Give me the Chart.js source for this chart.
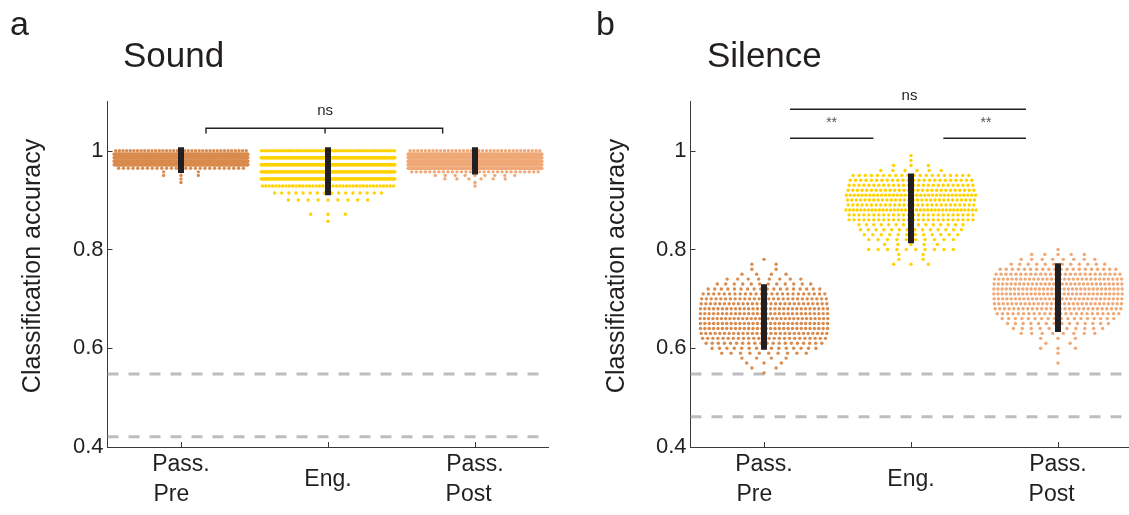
<!DOCTYPE html>
<html>
<head>
<meta charset="utf-8">
<script src="https://cdn.jsdelivr.net/npm/chart.js@4.4.1/dist/chart.umd.min.js"></script>
<style>
  html, body { margin: 0; padding: 0; background: #fff; overflow: hidden; }
  body { width: 1129px; height: 515px; position: relative; }
  #soundChart { position: absolute; left: 0; top: 0; }
  #silenceChart { position: absolute; left: 565px; top: 0; }
</style>
</head>
<body>
<canvas id="soundChart" width="565" height="515"></canvas>
<canvas id="silenceChart" width="580" height="515"></canvas>
<script>
// trailing spaces keep the two-line labels left aligned like the original
const categories = [["Pass.", "Pre   "], ["Eng."], ["Pass.", "Post  "]];
const yTickValues = [0.4, 0.6, 0.8, 1];
const yTickLabels = ["0.4", "0.6", "0.8", "1"];

// Sound: accuracy levels (rows of each swarm) and number of runs on each row
const soundPreLevels = [1.0, 0.9929, 0.9857, 0.9786, 0.9714, 0.9643, 0.9571, 0.95, 0.9429, 0.9357];
const soundPreCounts = [37, 220, 230, 220, 200, 27, 3, 3, 1, 1];
const soundEngLevels = [1.0, 0.9857, 0.9714, 0.9571, 0.9429, 0.9286, 0.9143, 0.9, 0.8714, 0.8571];
const soundEngCounts = [50, 170, 180, 170, 150, 40, 16, 9, 3, 1];
const soundPostLevels = [1.0, 0.9929, 0.9857, 0.9786, 0.9714, 0.9643, 0.9571, 0.95, 0.9429, 0.9357, 0.9286];
const soundPostCounts = [35, 200, 210, 210, 170, 150, 29, 9, 6, 1, 1];

// Silence
const silencePreLevels = [0.78, 0.77, 0.76, 0.75, 0.74, 0.73, 0.72, 0.71, 0.70, 0.69, 0.68, 0.67,
    0.66, 0.65, 0.64, 0.63, 0.62, 0.61, 0.60, 0.59, 0.58, 0.57, 0.56, 0.55];
const silencePreCounts = [1, 2, 2, 4, 8, 12, 18, 24, 27, 28, 30, 30, 31, 30, 30, 28, 25, 20, 15, 10, 4, 3, 2, 1];
const silenceEngLevels = [0.99, 0.98, 0.97, 0.96, 0.95, 0.94, 0.93, 0.92, 0.91, 0.90, 0.89, 0.88,
    0.87, 0.86, 0.85, 0.84, 0.83, 0.82, 0.81, 0.80, 0.79, 0.78, 0.77];
const silenceEngCounts = [1, 1, 3, 6, 20, 24, 26, 28, 34, 30, 28, 36, 26, 26, 15, 14, 12, 10, 5, 10, 2, 2, 3];
const silencePostLevels = [0.80, 0.79, 0.78, 0.77, 0.76, 0.75, 0.74, 0.73, 0.72, 0.71, 0.70, 0.69,
    0.68, 0.67, 0.66, 0.65, 0.64, 0.63, 0.62, 0.61, 0.60, 0.59, 0.57];
const silencePostCounts = [1, 5, 8, 12, 20, 26, 30, 31, 32, 32, 31, 30, 28, 24, 18, 14, 11, 8, 3, 2, 3, 1, 1];

// black bars: [low, high] per category
const soundBars = [[0.955, 1.007], [0.910, 1.007], [0.952, 1.007]];
const silenceBars = [[0.597, 0.7295], [0.8125, 0.954], [0.633, 0.772]];

// chance levels (dashed)
const soundChance = [0.548, 0.421];
const silenceChance = [0.548, 0.461];

// significance brackets and their labels
const soundBrackets = [
    [{x: 1.17, y: 1.035}, {x: 1.17, y: 1.0454}, {x: 2.78, y: 1.0454}, {x: 2.78, y: 1.035}],
    [{x: 1.98, y: 1.0454}, {x: 1.98, y: 1.035}]
];
const soundMarks = [{text: "ns", x: 1.98, y: 1.081}];
const silenceBrackets = [
    [{x: 1.177, y: 1.0838}, {x: 2.782, y: 1.0838}],
    [{x: 1.177, y: 1.0251}, {x: 1.744, y: 1.0251}],
    [{x: 2.22, y: 1.0251}, {x: 2.782, y: 1.0251}]
];
const silenceMarks = [
    {text: "ns", x: 1.99, y: 1.1108},
    {text: "**", x: 1.46, y: 1.0555},
    {text: "**", x: 2.51, y: 1.0555}
];

const colors = ["#D98B4E", "#FFD200", "#EFA877"];
const ink = "#231f20";
const FONT = '"Liberation Sans", Arial, sans-serif';

Chart.defaults.font.family = FONT;
Chart.defaults.color = ink;

// spread each row of equal values evenly, wider where the row is fuller
function swarmPoints(center, levels, counts) {
    const pts = [];
    levels.forEach((level, r) => {
        const n = counts[r];
        const half = 0.455 * (1 - Math.exp(-n / 10));
        for (let i = 0; i < n; i++) {
            const x = n === 1 ? center : center - half + (2 * half * i) / (n - 1);
            pts.push({x: x, y: level});
        }
    });
    return pts;
}

function buildDatasets(groups, bars, chance, brackets) {
    const ds = [];
    bars.forEach((b, i) => {
        ds.push({
            type: "line", data: [{x: i + 1, y: b[0]}, {x: i + 1, y: b[1]}],
            borderColor: ink, borderWidth: 6, borderCapStyle: "butt",
            pointRadius: 0, order: 0
        });
    });
    groups.forEach((g, i) => {
        ds.push({
            type: "scatter", data: swarmPoints(i + 1, g[0], g[1]),
            backgroundColor: colors[i], pointRadius: 1.7, pointBorderWidth: 0,
            pointHoverRadius: 0, order: 1
        });
    });
    brackets.forEach(path => {
        ds.push({
            type: "line", data: path, borderColor: ink, borderWidth: 1.4,
            pointRadius: 0, order: 2, clip: false
        });
    });
    chance.forEach(c => {
        ds.push({
            type: "line", data: [{x: 0.5, y: c}, {x: 3.5, y: c}],
            borderColor: "#bebec0", borderWidth: 3, borderDash: [11, 10],
            pointRadius: 0, order: 3
        });
    });
    return ds;
}

function decorPlugin(p) {
    return {
        id: "decor_" + p.letter,
        afterDraw(chart) {
            const ctx = chart.ctx;
            const xs = chart.scales.x;
            const ys = chart.scales.y;
            const area = chart.chartArea;
            ctx.save();
            // tick marks point inwards
            ctx.strokeStyle = "#3a3a3a";
            ctx.lineWidth = 1;
            ctx.beginPath();
            yTickValues.forEach(v => {
                const py = Math.round(ys.getPixelForValue(v)) + 0.5;
                ctx.moveTo(area.left, py);
                ctx.lineTo(area.left + 5, py);
            });
            [1, 2, 3].forEach(v => {
                const px = Math.round(xs.getPixelForValue(v)) + 0.5;
                ctx.moveTo(px, area.bottom);
                ctx.lineTo(px, area.bottom - 5);
            });
            ctx.stroke();

            ctx.fillStyle = ink;
            ctx.textAlign = "left";
            ctx.textBaseline = "alphabetic";
            ctx.font = "34px " + FONT;
            ctx.fillText(p.letter, p.letterX, 35);
            ctx.font = "35px " + FONT;
            ctx.fillText(p.title, p.titleX, 67);

            p.marks.forEach(m => {
                ctx.textAlign = "center";
                ctx.textBaseline = "middle";
                ctx.font = m.text === "ns" ? "15px " + FONT : "14px " + FONT;
                ctx.fillStyle = m.text === "ns" ? ink : "#555";
                ctx.fillText(m.text, xs.getPixelForValue(m.x), ys.getPixelForValue(m.y));
            });

            ctx.fillStyle = ink;
            ctx.translate(p.yTitleX, 266);
            ctx.rotate(-Math.PI / 2);
            ctx.textAlign = "center";
            ctx.textBaseline = "middle";
            ctx.font = "25px " + FONT;
            ctx.fillText("Classification accuracy", 0, 0);
            ctx.restore();
        }
    };
}

function makeChart(canvasId, datasets, area, panel) {
    const canvas = document.getElementById(canvasId);
    return new Chart(canvas, {
        type: "scatter",
        data: {datasets: datasets},
        options: {
            responsive: false,
            animation: false,
            events: [],
            layout: {padding: {left: 0, top: area.top, right: canvas.width - area.right, bottom: 0}},
            plugins: {legend: {display: false}, tooltip: {enabled: false}},
            scales: {
                x: {
                    type: "linear", min: 0.5, max: 3.5,
                    grid: {display: false, drawTicks: false},
                    border: {color: "#3a3a3a", width: 1},
                    afterBuildTicks: axis => { axis.ticks = [1, 2, 3].map(v => ({value: v})); },
                    afterFit: s => { s.height = 515 - area.bottom; },
                    ticks: {
                        callback: (v, i) => categories[i],
                        font: {size: 23, lineHeight: 1.3},
                        padding: 18, crossAlign: "center",
                        maxRotation: 0, autoSkip: false, color: ink
                    }
                },
                y: {
                    type: "linear", min: 0.4, max: 1.1,
                    grid: {display: false, drawTicks: false},
                    border: {color: "#3a3a3a", width: 1},
                    afterBuildTicks: axis => { axis.ticks = yTickValues.map(v => ({value: v})); },
                    afterFit: s => { s.width = area.left; },
                    ticks: {
                        callback: (v, i) => yTickLabels[i],
                        font: {size: 22}, padding: 4, color: ink
                    }
                }
            }
        },
        plugins: [decorPlugin(panel)]
    });
}

makeChart("soundChart",
    buildDatasets([[soundPreLevels, soundPreCounts], [soundEngLevels, soundEngCounts],
        [soundPostLevels, soundPostCounts]], soundBars, soundChance, soundBrackets),
    {left: 107.5, right: 548.5, top: 101.3, bottom: 447},
    {letter: "a", letterX: 10, title: "Sound", titleX: 123, yTitleX: 33, marks: soundMarks});

makeChart("silenceChart",
    buildDatasets([[silencePreLevels, silencePreCounts], [silenceEngLevels, silenceEngCounts],
        [silencePostLevels, silencePostCounts]], silenceBars, silenceChance, silenceBrackets),
    {left: 125.5, right: 566.5, top: 101.3, bottom: 447},
    {letter: "b", letterX: 31, title: "Silence", titleX: 142, yTitleX: 52.5, marks: silenceMarks});
</script>
</body>
</html>
